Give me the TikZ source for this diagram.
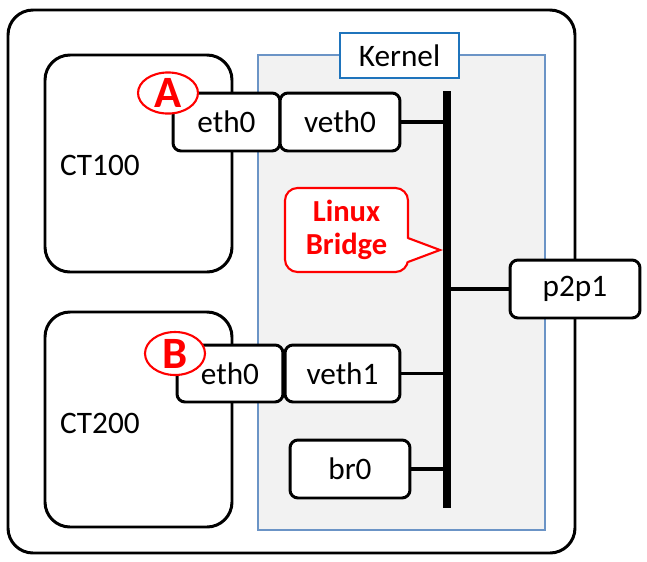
\documentclass[tikz,border=0pt]{standalone}
\usepackage{fontspec}
\setmainfont{Carlito}
\usetikzlibrary{shapes.geometric}
\definecolor{kernelfill}{HTML}{F2F2F2}
\definecolor{kernelline}{HTML}{6B94C6}
\definecolor{labelline}{HTML}{1F74BC}
\definecolor{markred}{HTML}{FF0000}
\begin{document}
\begin{tikzpicture}[x=0.02cm, y=-0.02cm,
    every node/.style={font=\fontsize{17.8}{21}\selectfont},
    iface/.style={draw, line width=1.7pt, rounded corners=0.16cm, fill=white, inner sep=0pt, minimum height=1.16cm},
    ctbox/.style={draw, line width=1.7pt, rounded corners=0.5cm},
    wire/.style={line width=1.8pt},
    badge/.style={ellipse, draw=markred, line width=1.2pt, fill=white, inner sep=0pt, text=markred, font=\fontsize{25.5}{26}\selectfont\bfseries}]
    \useasboundingbox (0,0) rectangle (647,562);
    % host and containers
    \draw[line width=1.7pt, rounded corners=0.5cm] (8,10) rectangle (575,553);
    \draw[ctbox] (45,55) rectangle (232,272);
    \draw[ctbox] (45,312) rectangle (232,527);
    \node (ct100) at (100,165) {CT100};
    \node (ct200) at (100,423) {CT200};
    % kernel area
    \draw[kernelline, fill=kernelfill, line width=1.1pt] (258,55) rectangle (545,530);
    \node[draw=labelline, line width=1.1pt, fill=white, minimum width=2.38cm, minimum height=0.9cm, inner sep=0pt] (kernel) at (399.5,55.5) {Kernel};
    % bridge bus
    \coordinate (bustop) at (447,91);
    \coordinate (busbot) at (447,508);
    \draw[line width=4pt] (bustop) -- (busbot);
    % interfaces
    \node[iface, minimum width=2.14cm] (eth0a) at (226.5,122) {eth0};
    \node[iface, minimum width=2.4cm] (veth0) at (340,122) {veth0};
    \node[iface, minimum width=2.12cm, minimum height=1.14cm] (eth0b) at (230,373.5) {eth0};
    \node[iface, minimum width=2.3cm, minimum height=1.14cm] (veth1) at (342.5,373.5) {veth1};
    \node[iface, minimum width=2.4cm] (br0) at (350,469) {br0};
    \node[iface, minimum width=2.6cm] (p2p1) at (575,289) {p2p1};
    \draw[wire] (veth0.east) -- (veth0.east -| bustop);
    \draw[wire] (veth1.east) -- (veth1.east -| bustop);
    \draw[wire] (br0.east) -- (br0.east -| bustop);
    \draw[wire] (p2p1.west) -- (p2p1.west -| bustop);
    % markers
    \node[badge, minimum width=1.2cm, minimum height=0.76cm] (marka) at (168,93) {A};
    \node[badge, minimum width=1.2cm, minimum height=0.86cm] (markb) at (175,353.5) {B};
    % callout
    \node[draw=markred, line width=1.2pt, fill=white, rounded corners=0.25cm, minimum width=2.46cm, minimum height=1.68cm, inner sep=0pt, align=center, text=markred, font=\fontsize{17.4}{18.4}\selectfont\bfseries] (bridge) at (346.5,230) {Linux\\Bridge};
    \coordinate (tip) at (440,250);
    \fill[white] (405,238) -- (tip) -- (405,262) -- cycle;
    \draw[markred, line width=1.2pt, line join=miter] (408,238) -- (tip) -- (408,262);
\end{tikzpicture}
\end{document}
